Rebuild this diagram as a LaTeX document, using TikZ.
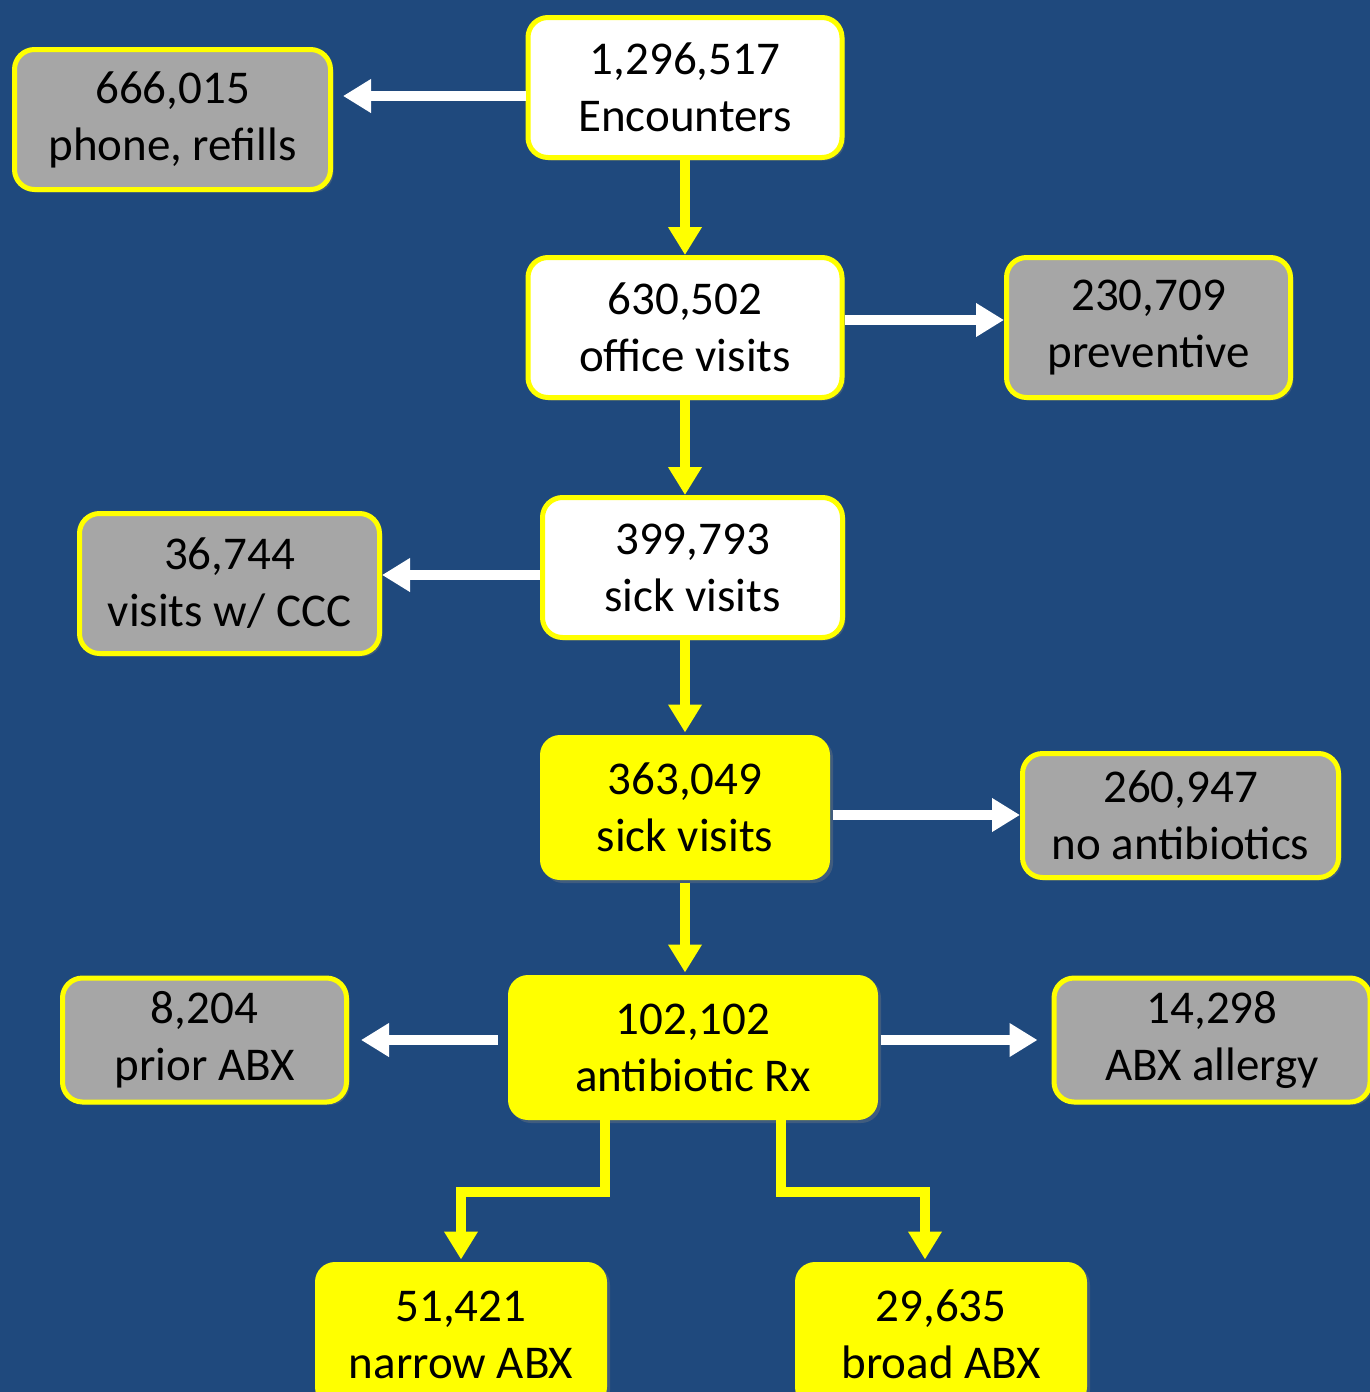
\documentclass[tikz,border=0pt]{standalone}
\usepackage{fontspec}
\setmainfont{Carlito}
\usetikzlibrary{arrows.meta,shadows}
\definecolor{bgblue}{RGB}{31,73,125}
\definecolor{boxgray}{RGB}{166,166,166}
\definecolor{yel}{RGB}{255,255,0}
\tikzset{
  box/.style={draw=yel, line width=2.5pt, rounded corners=10pt, align=center, inner sep=0pt,
    minimum height=70pt, font=\fontsize{23.5}{28.5}\selectfont, text=black,
    drop shadow={opacity=0.35, shadow xshift=1.5pt, shadow yshift=-1.5pt}},
  wbox/.style={box, fill=white},
  gbox/.style={box, fill=boxgray},
  ybox/.style={box, fill=yel},
  warr/.style={draw=white, line width=5pt, -{Triangle[width=16pt,length=14pt]}},
  yarr/.style={draw=yel, line width=5pt, -{Triangle[width=16pt,length=14pt]}},
}
\begin{document}
\begin{tikzpicture}[x=0.5pt,y=-0.5pt]
\fill[bgblue] (0,0) rectangle (1370,1392);
\useasboundingbox (0,0) rectangle (1370,1392);
\clip (0,0) rectangle (1370,1392);
\node[wbox, minimum width=157pt] (enc) at (685,87.5) {1,296,517\\Encounters};
\node[gbox, minimum width=158pt] (phone) at (172.5,119.5) {666,015\\phone, refills};
\node[wbox, minimum width=157pt] (office) at (685,327.5) {630,502\\office visits};
\node[gbox, minimum width=142pt] (prev) at (1148.5,327.5) {230,709\\preventive};
\node[wbox, minimum width=150pt] (sick1) at (692.5,567.5) {399,793\\sick visits};
\node[gbox, minimum width=150pt] (ccc) at (229.5,583.5) {36,744\\visits w/ CCC};
\node[ybox, draw=none, minimum width=145pt, minimum height=72.5pt] (sick2) at (685,807.5) {363,049\\sick visits};
\node[gbox, minimum width=158pt, minimum height=62pt] (noabx) at (1180.5,815.5) {260,947\\no antibiotics};
\node[ybox, draw=none, minimum width=185pt, minimum height=72.5pt] (rx) at (693,1047.5) {102,102\\antibiotic Rx};
\node[gbox, minimum width=142pt, minimum height=62pt] (prior) at (204.5,1040) {8,204\\prior ABX};
\node[gbox, minimum width=158pt, minimum height=62pt] (allergy) at (1212,1040) {14,298\\ABX allergy};
\node[ybox, draw=none, minimum width=146pt, minimum height=72.5pt] (narrow) at (461,1334.5) {51,421\\narrow ABX};
\node[ybox, draw=none, minimum width=146pt, minimum height=72.5pt] (broad) at (941,1334.5) {29,635\\broad ABX};
% connectors
\draw[warr, shorten >=5pt] (enc.west |- 0,96) -- (phone.east |- 0,96);
\draw[yarr] (enc.south) -- (office.north);
\draw[warr] (office.east |- 0,320) -- (prev.west |- 0,320);
\draw[yarr] (office.south) -- (office.south |- sick1.north);
\draw[warr] (sick1.west |- 0,575) -- (ccc.east |- 0,575);
\draw[yarr] (office.south |- sick1.south) -- (sick2.north);
\draw[warr] (sick2.east |- 0,815) -- (noabx.west |- 0,815);
\draw[yarr] (sick2.south) -- (sick2.south |- rx.north);
\draw[warr, shorten >=6pt] ([xshift=-4pt]rx.west |- 0,1040) -- (prior.east |- 0,1040);
\draw[warr, shorten >=7pt] (rx.east |- 0,1040) -- (allergy.west |- 0,1040);
\draw[yarr, line cap=rect] (rx.south -| 605,0) -- (605,1192) -- (narrow.north |- 0,1192) -- (narrow.north);
\draw[yarr, line cap=rect] (rx.south -| 781,0) -- (781,1192) -- (925,1192) -- (broad.north -| 925,0);
\end{tikzpicture}
\end{document}
